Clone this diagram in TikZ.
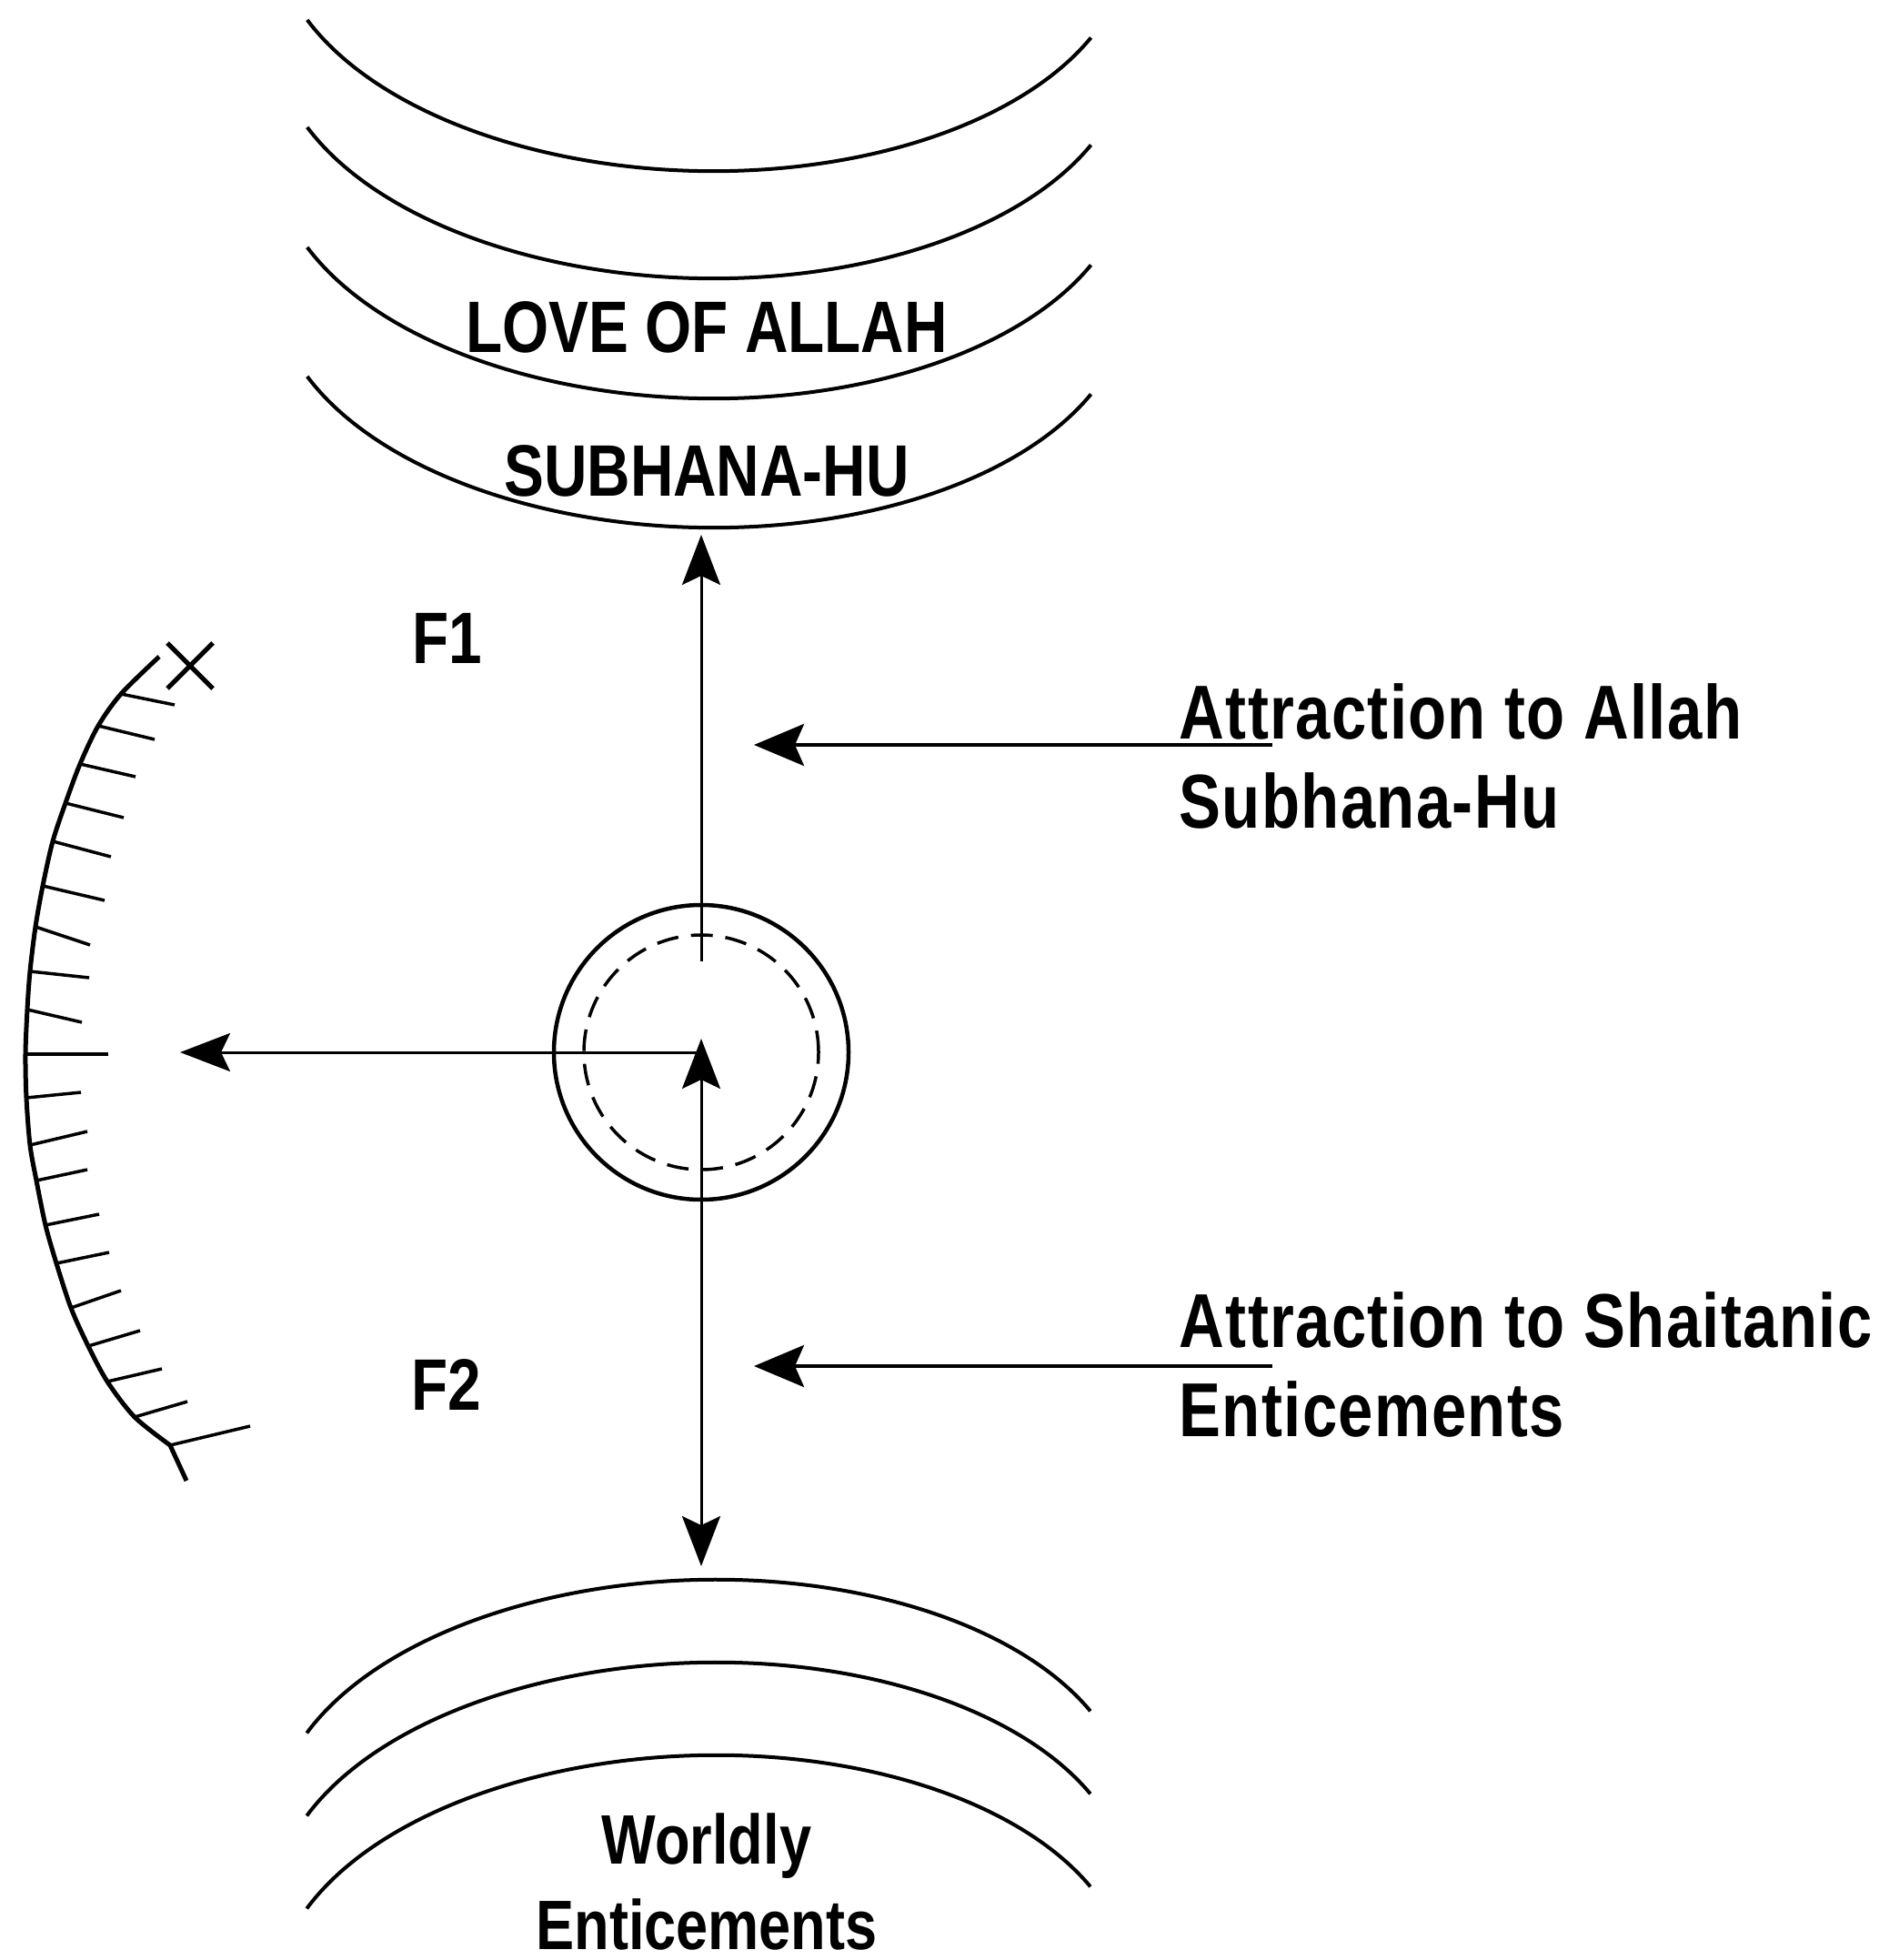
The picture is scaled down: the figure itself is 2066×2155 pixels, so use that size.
\documentclass[tikz,border=0pt]{standalone}
\usepackage{fontspec}
\setmainfont{Liberation Sans}
\newfontfamily\condfont[FakeStretch=0.82]{Liberation Sans}
\newfontfamily\sidefont[FakeStretch=0.82, LetterSpace=1.6]{Liberation Sans}
\usetikzlibrary{arrows.meta, positioning, calc}

\begin{document}
\begin{tikzpicture}[
  x=0.1mm, y=-0.1mm,
  band/.style={line width=0.4mm},
  arrow/.style={-{Stealth[length=5.5mm, width=4.2mm, inset=1mm]}, line width=0.3mm},
  twoway/.style={{Stealth[length=5.5mm, width=4.2mm, inset=1mm]}-{Stealth[length=5.5mm, width=4.2mm, inset=1mm]}, line width=0.3mm},
  pull/.style={-{Stealth[length=5.5mm, width=4.6mm, inset=1mm]}, line width=0.4mm},
  hatch/.style={line width=0.35mm},
  bandlabel/.style={inner sep=0, font={\condfont\bfseries\fontsize{22.8pt}{27pt}\selectfont}},
  sidelabel/.style={anchor=north west, align=left, inner sep=0, font={\sidefont\bfseries\fontsize{23.9pt}{27.9pt}\selectfont}},
  worldlabel/.style={anchor=north, align=center, inner sep=0, font={\condfont\bfseries\fontsize{21.9pt}{26.7pt}\selectfont}}
]
  \useasboundingbox (0,0) rectangle (2066,2155);

  % Bands of the love of Allah (top)
  \foreach \ym [evaluate=\ym as \cy using \ym-260] in {188,306,438,580}
    \draw[band, rotate around={-1.3:(771,\cy)}] (771,\cy) ++(156.5:470 and 260)
      arc[start angle=156.5, end angle=23.5, x radius=470, y radius=260];

  % Bands of worldly enticements (bottom)
  \foreach \ym [evaluate=\ym as \cy using \ym+260] in {1737,1828,1930}
    \draw[band, rotate around={1.6:(771,\cy)}] (771,\cy) ++(203.5:470 and 260)
      arc[start angle=203.5, end angle=336.5, x radius=470, y radius=260];

  \node[bandlabel] (love) at (777,360) {LOVE OF ALLAH};
  \node[bandlabel] (subhana) at (777,518) {SUBHANA-HU};
  \node[worldlabel] (world) at (777,1993) {Worldly\\Enticements};

  % The soul in the middle
  \node[draw, circle, line width=0.45mm, minimum size=32.4mm, inner sep=0] (ctr) at (771,1157) {};
  \node[draw, circle, line width=0.35mm, dash pattern=on 2.4mm off 1.4mm, minimum size=25.8mm, inner sep=0] (core) at (ctr) {};

  \coordinate (upfoot) at (771,1057);
  \coordinate (allahpt) at (771,588);
  \coordinate (ctrtip) at (771,1142);
  \coordinate (worldpt) at (771,1722);
  \coordinate (leftpt) at (198,1157);

  \draw[arrow] (upfoot) -- (allahpt);
  \draw[twoway] (ctrtip) -- (worldpt);
  \draw[arrow] (ctr.center) -- (leftpt);

  \node[bandlabel] (f1) at (492,702) {F1};
  \node[bandlabel] (f2) at (491,1523) {F2};

  % Attractions (right)
  \node[sidelabel] (allah) at (1296,751) {Attraction to Allah\\Subhana-Hu};
  \node[sidelabel] (shaitan) at (1296,1420) {Attraction to Shaitanic\\Enticements};

  \coordinate (allahtail) at (1399,819);
  \coordinate (allahhead) at (829,819);
  \coordinate (shaitantail) at (1399,1502);
  \coordinate (shaitanhead) at (829,1502);
  \draw[pull] (allahtail) -- (allahhead);
  \draw[pull] (shaitantail) -- (shaitanhead);

  % Hatched boundary (left)
  \draw[line width=0.5mm] plot[smooth] coordinates {(175,722) (133,763) (108,798) (88,840)
    (72,883) (58,925) (47,974) (39,1019) (33,1068) (30,1110) (28,1159) (29,1207)
    (33,1259) (40,1298) (50,1347) (62,1389) (78,1438) (97,1480) (118,1519)
    (148,1558) (187,1589)} -- (205,1628);
  \foreach \x/\y/\dx/\dy in {133/763/59/12, 108/798/62/15, 88/840/61/14, 72/883/64/16,
      58/925/64/17, 47/974/68/16, 39/1019/60/20, 33/1068/65/7, 30/1110/60/14,
      28/1159/91/0, 29/1207/60/-6, 33/1259/63/-15, 40/1298/56/-12, 50/1347/59/-12,
      62/1389/58/-12, 78/1438/55/-19, 97/1480/57/-17, 118/1519/60/-14,
      148/1558/58/-17, 187/1589/88/-21}
    \draw[hatch] (\x,\y) -- ++(\dx,\dy);
  \coordinate (xmark) at (209,732);
  \draw[line width=0.5mm] (xmark) ++(-25,-25) -- ++(50,50) (xmark) ++(-25,25) -- ++(50,-50);
\end{tikzpicture}
\end{document}
